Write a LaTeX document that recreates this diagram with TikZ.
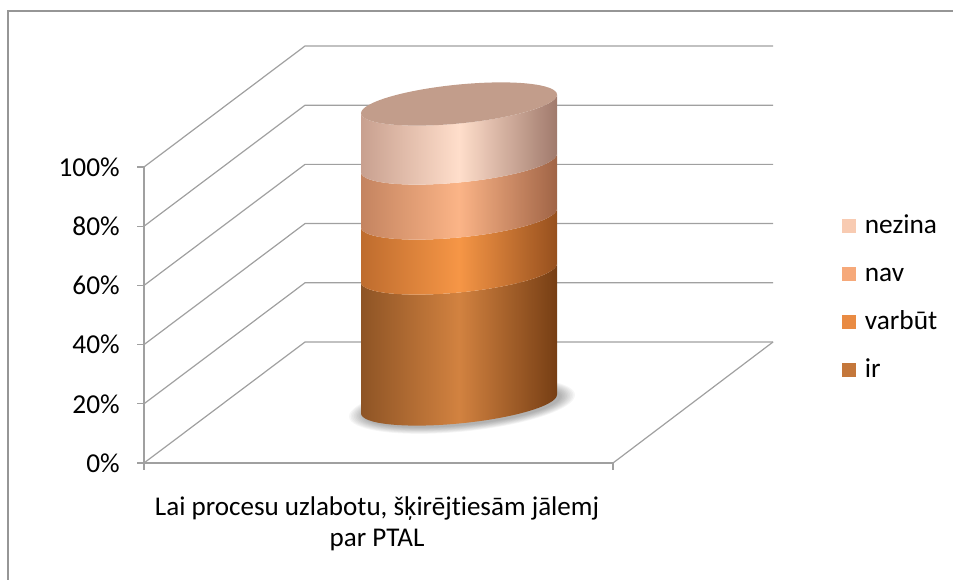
\documentclass[tikz,border=0pt]{standalone}
\usepackage{fontspec}
\setmainfont{Carlito}[RawFeature={-liga;-clig;-dlig;-calt}]
\usepackage{tikz}
\usetikzlibrary{positioning}
\definecolor{gridgray}{RGB}{160, 160, 160}
\definecolor{framegray}{RGB}{150, 150, 150}
\definecolor{topface}{RGB}{194, 157, 139}
\definecolor{nezinalight}{RGB}{255, 222, 203}
\definecolor{nezinaedge}{RGB}{200, 160, 143}
\definecolor{nezinadark}{RGB}{160, 122, 108}
\definecolor{navlight}{RGB}{251, 180, 135}
\definecolor{navedge}{RGB}{196, 132, 96}
\definecolor{navdark}{RGB}{160, 100, 70}
\definecolor{varbutlight}{RGB}{246, 150, 70}
\definecolor{varbutedge}{RGB}{190, 108, 46}
\definecolor{varbutdark}{RGB}{150, 80, 30}
\definecolor{irlight}{RGB}{210, 130, 64}
\definecolor{iredge}{RGB}{142, 84, 37}
\definecolor{irdark}{RGB}{118, 62, 20}
\definecolor{nezinakeycol}{RGB}{248, 203, 178}
\definecolor{navkeycol}{RGB}{246, 169, 122}
\definecolor{varbutkeycol}{RGB}{233, 139, 67}
\definecolor{irkeycol}{RGB}{196, 119, 59}

\begin{document}
\begin{tikzpicture}[
    x=0.75pt, y=-0.75pt,
    grid/.style={draw=gridgray, line width=0.9pt},
    ticklabel/.style={anchor=east, inner sep=0pt, font=\fontsize{20.5}{24}\selectfont},
    keybox/.style={fill=#1, minimum size=11pt, inner sep=0pt},
    keytext/.style={inner sep=0pt, font=\fontsize{20.5}{24}\selectfont},
    band/.style n args={3}{left color=#1, right color=#3, middle color=#2},
]
    \useasboundingbox (0,0) rectangle (953,580);

    % Chart frame
    \draw[draw=framegray, line width=1.1pt] (8,580) -- (8,11) -- (953,11);

    % Wall and floor gridlines
    \foreach \v in {0,...,5} {
        \draw[grid] (144,{463-59.2*\v}) -- ++(161,-121) -- (773,{342-59.2*\v});
        \draw[grid] (137,{463-59.2*\v}) -- (144,{463-59.2*\v});
    }
    \draw[grid] (613,463) -- (773,342);

    % Axes
    \draw[grid] (144,470) -- (144,167);
    \draw[grid] (144,463) -- (613,463) -- (613,470);

    % Value labels
    \node[ticklabel] (lab0) at (120,463) {0\%};
    \node[ticklabel] (lab20) at (120,403.8) {20\%};
    \node[ticklabel] (lab40) at (120,344.6) {40\%};
    \node[ticklabel] (lab60) at (120,285.4) {60\%};
    \node[ticklabel] (lab80) at (120,226.2) {80\%};
    \node[ticklabel] (lab100) at (120,167) {100\%};

    % Cylinder
    \begin{scope}[shift={(459,0)}, yslant=0.095]
        % soft shadow under the base
        \foreach \s in {0,...,9}
            \fill[black, opacity=0.035] (3,406) ellipse[x radius={113-1.6*\s}, y radius={26-0.7*\s}];
        % ir
        \shade[band={iredge}{irlight}{irdark}]
            (-98,404) arc[start angle=180, end angle=0, x radius=98, y radius=19.5]
            -- (98,273) arc[start angle=0, end angle=180, x radius=98, y radius=19.5] -- cycle;
        % varbut
        \shade[band={varbutedge}{varbutlight}{varbutdark}]
            (-98,273) arc[start angle=180, end angle=0, x radius=98, y radius=19.5]
            -- (98,218) arc[start angle=0, end angle=180, x radius=98, y radius=19.5] -- cycle;
        % nav
        \shade[band={navedge}{navlight}{navdark}]
            (-98,218) arc[start angle=180, end angle=0, x radius=98, y radius=19.5]
            -- (98,163) arc[start angle=0, end angle=180, x radius=98, y radius=19.5] -- cycle;
        % nezina
        \shade[band={nezinaedge}{nezinalight}{nezinadark}]
            (-98,163) arc[start angle=180, end angle=0, x radius=98, y radius=19.5]
            -- (98,104) arc[start angle=0, end angle=180, x radius=98, y radius=19.5] -- cycle;
        % top face
        \fill[topface] (0,104) ellipse[x radius=98, y radius=19.5];
    \end{scope}

    % Category label
    \node[align=center, font=\fontsize{20.3}{23.3}\selectfont] (category) at (377,524)
        {Lai procesu uzlabotu, šķirējtiesām jālemj\\par PTAL};

    % Legend
    \node[keybox=nezinakeycol] (nezinakey) at (849,226) {};
    \node[keybox=navkeycol] (navkey) at (849,274) {};
    \node[keybox=varbutkeycol] (varbutkey) at (849,322) {};
    \node[keybox=irkeycol] (irkey) at (849,370) {};
    \node[keytext, right=6pt of nezinakey.south east, anchor=base west] (nezinatext) {nezina};
    \node[keytext, right=6pt of navkey.south east, anchor=base west] (navtext) {nav};
    \node[keytext, right=6pt of varbutkey.south east, anchor=base west] (varbuttext) {varbūt};
    \node[keytext, right=6pt of irkey.south east, anchor=base west] (irtext) {ir};
\end{tikzpicture}
\end{document}
